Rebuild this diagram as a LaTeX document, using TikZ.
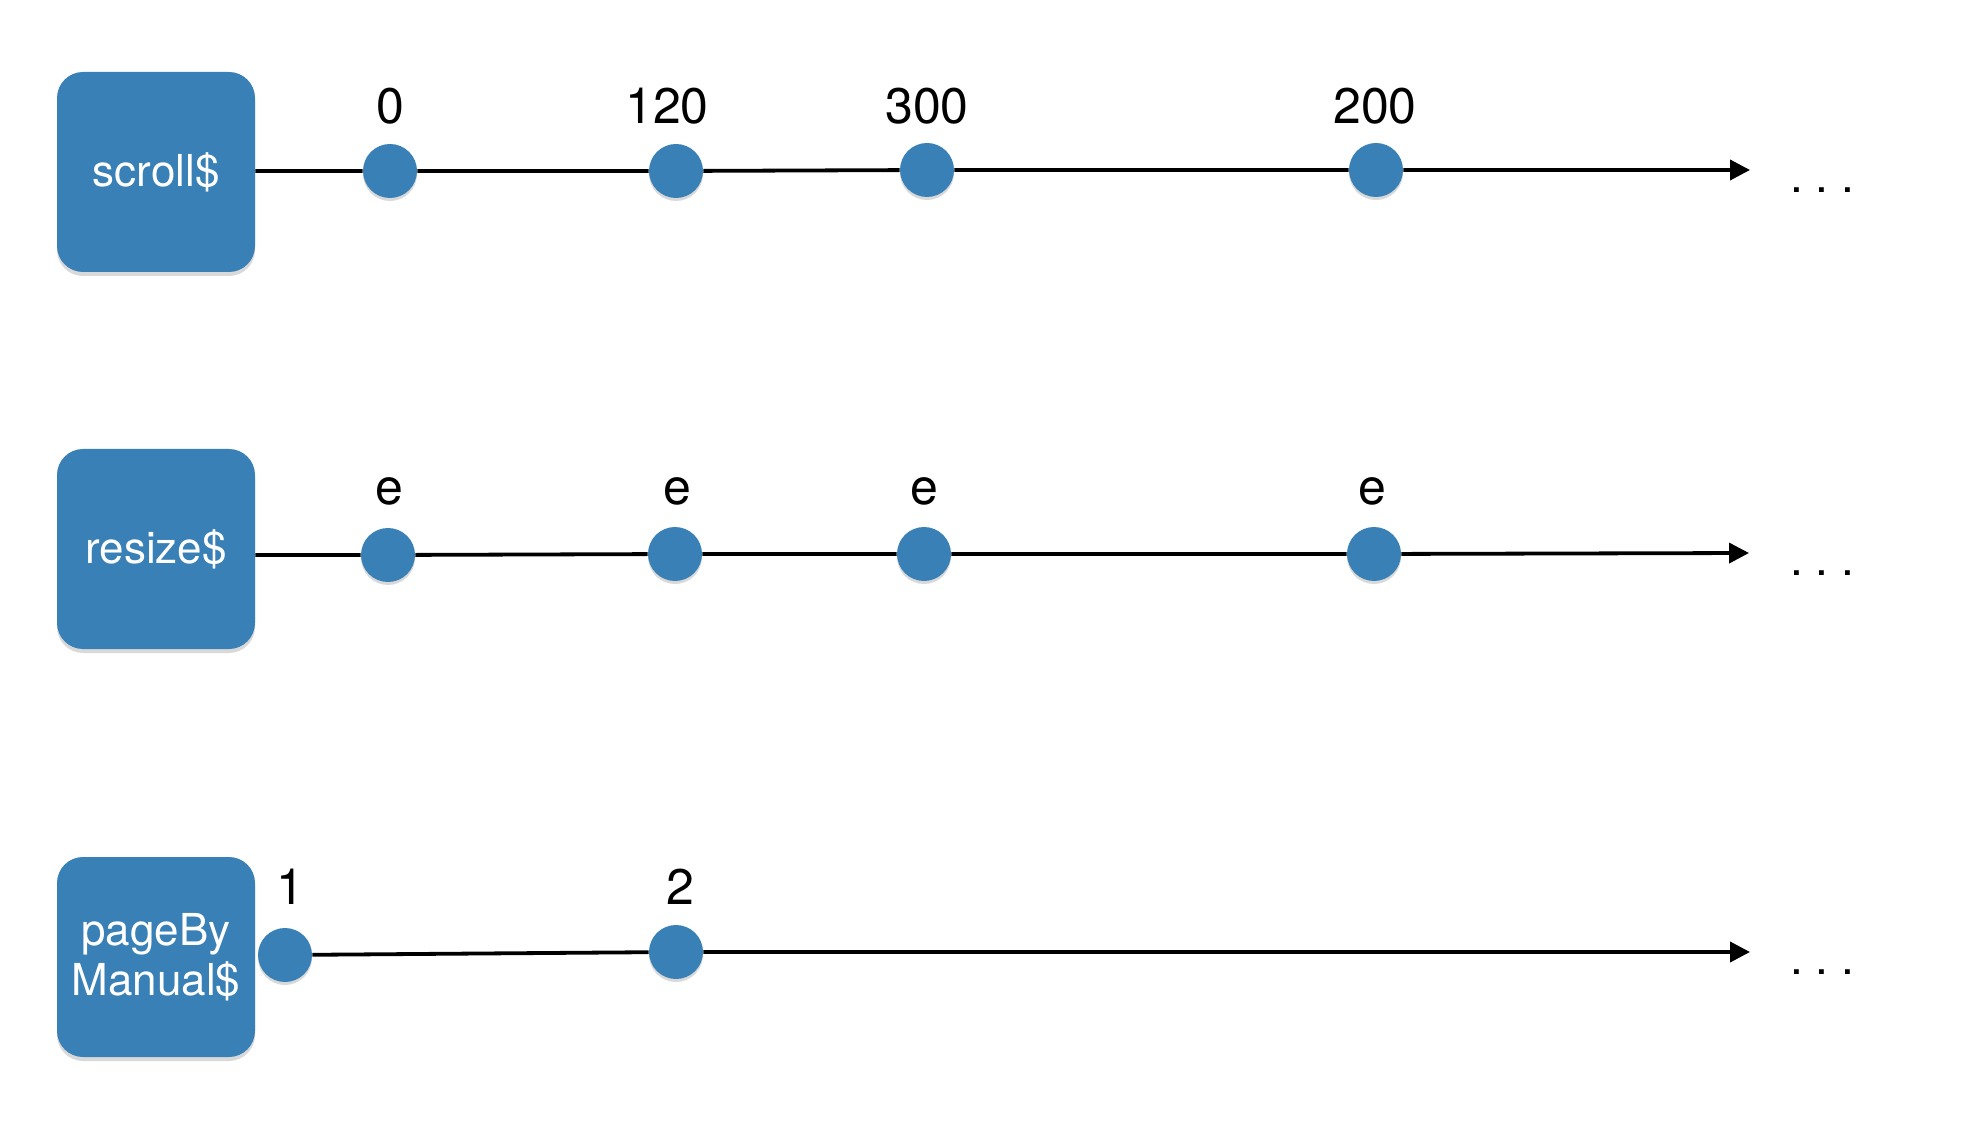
\documentclass[tikz,border=0pt]{standalone}
\usepackage{fontspec}
\setmainfont{TeX Gyre Heros}
\usetikzlibrary{shadows,arrows.meta}
\definecolor{rxblue}{RGB}{56,128,181}
\begin{document}
\begin{tikzpicture}[x=0.5pt,y=-0.5pt,
  stream/.style={draw=none, fill=rxblue, rounded corners=13pt, minimum width=99pt, minimum height=100pt,
    text=white, font=\fontsize{22}{25}\selectfont, align=center, inner sep=0pt,
    drop shadow={shadow xshift=0pt, shadow yshift=-2pt, opacity=0.3}},
  ev/.style={circle, fill=rxblue, minimum size=27pt, inner sep=0pt,
    drop shadow={shadow xshift=0pt, shadow yshift=-1.5pt, opacity=0.3}},
  lbl/.style={font=\fontsize{25}{28}\selectfont, inner sep=0pt},
  dots/.style={font=\fontsize{23}{28}\selectfont, inner sep=0pt},
  tl/.style={line width=1.9pt, -{Triangle[length=10pt,width=10pt]}}]
\useasboundingbox (0,0) rectangle (1974,1138);
% row 1
\node[stream] (s1) at (156,172) {scroll\$};
\node[ev] (a1) at (390,171) {};
\node[ev] (a2) at (676,171) {};
\node[ev] (a3) at (927,170) {};
\node[ev] (a4) at (1376,170) {};
\coordinate (e1) at (1750,170);
\draw[tl] (s1.east |- a1) -- (a1) -- (a2) -- (a3) -- (a4) -- (e1);
\node[lbl] (l11) at (390,106) {0};
\node[lbl] (l12) at (667,106) {120};
\node[lbl] (l13) at (927,106) {300};
\node[lbl] (l14) at (1375,106) {200};
\node[dots] (d1) at (1822,190) {.\ .\ .};
% row 2
\node[stream] (s2) at (156,549) {resize\$};
\node[ev] (b1) at (388,555) {};
\node[ev] (b2) at (675,554) {};
\node[ev] (b3) at (924,554) {};
\node[ev] (b4) at (1374,554) {};
\coordinate (e2) at (1749,553);
\draw[tl] (s2.east |- b1) -- (b1) -- (b2) -- (b3) -- (b4) -- (e2);
\node[lbl] (l21) at (389,491) {e};
\node[lbl] (l22) at (677,491) {e};
\node[lbl] (l23) at (924,491) {e};
\node[lbl] (l24) at (1372,491) {e};
\node[dots] (d2) at (1822,573) {.\ .\ .};
% row 3
\node[stream] (s3) at (156,957) {pageBy\\Manual\$};
\node[ev] (c1) at (285,955) {};
\node[ev] (c2) at (676,952) {};
\coordinate (e3) at (1750,952);
\draw[tl] (c1) -- (c2) -- (e3);
\node[lbl] (l31) at (290,887) {1};
\node[lbl] (l32) at (680,887) {2};
\node[dots] (d3) at (1822,972) {.\ .\ .};
\end{tikzpicture}
\end{document}
